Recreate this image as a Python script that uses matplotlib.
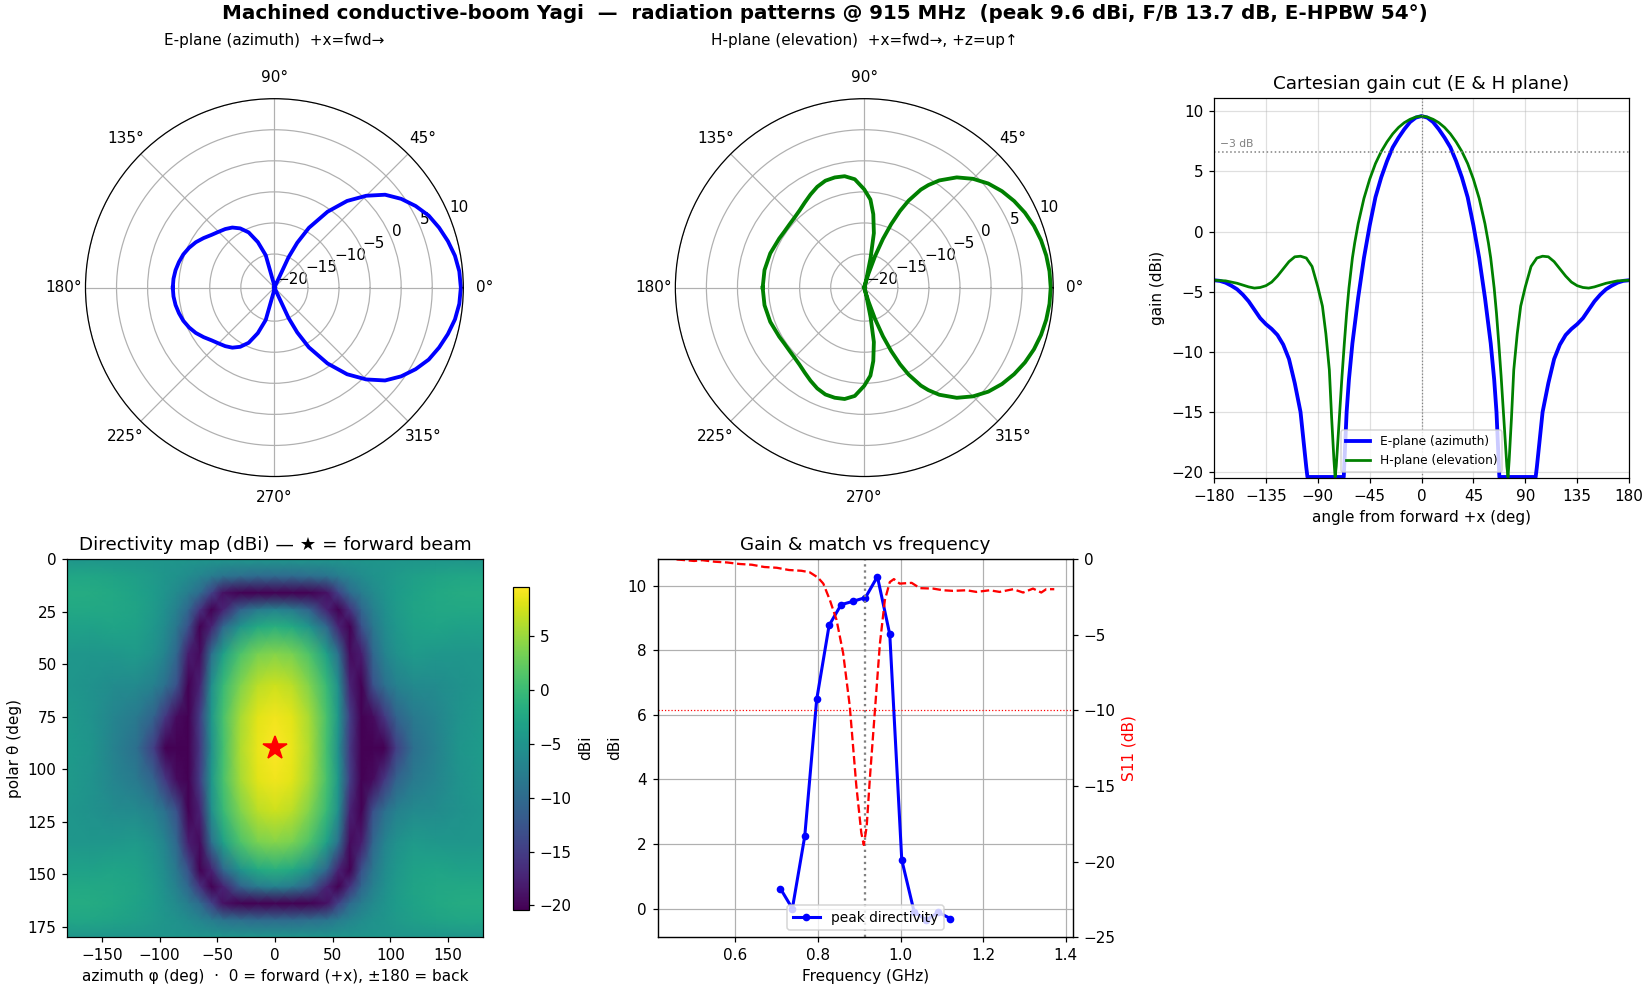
import numpy as np
import matplotlib.pyplot as plt

FLOOR = -20.4
PEAK = 9.6

# ---- E-plane (azimuth) cut, symmetric about forward (deg, dBi)
e_ang = [0, 5, 10, 15, 20, 25, 30, 35, 40, 45, 50, 55, 60, 63, 65, 67.5, 70, 80, 90, 99,
         100, 105, 110, 115, 120, 125, 130, 135, 140, 145, 150, 155, 160, 165, 170, 175, 180]
e_gain = [9.6, 9.47, 9.1, 8.5, 7.8, 7.0, 5.85, 4.5, 2.85, 0.5, -2.2, -5.5, -9.3, -12.3, -15.0,
          -20.4, -20.4, -20.4, -20.4, -20.4, -19.6, -15.0, -12.6, -10.6, -9.4, -8.6, -8.1, -7.7,
          -7.2, -6.5, -5.8, -5.25, -4.8, -4.5, -4.25, -4.1, -4.05]

# ---- H-plane (elevation) cut, symmetric about forward
h_ang = [0, 5, 10, 15, 20, 25, 30, 35, 40, 45, 50, 55, 58, 60, 63, 65, 67, 69, 71, 73, 74, 75,
         76, 78, 80, 83, 86, 90, 95, 100, 105, 110, 115, 120, 125, 130, 135, 140, 145, 150,
         160, 170, 180]
h_gain = [9.6, 9.52, 9.33, 9.05, 8.65, 8.12, 7.45, 6.65, 5.65, 4.35, 2.75, 0.65, -0.95, -2.2,
          -4.7, -6.8, -9.3, -12.0, -15.0, -18.0, -19.5, -20.4, -19.0, -15.5, -11.5, -8.5, -6.2,
          -4.6, -2.9, -2.2, -2.05, -2.1, -2.5, -3.1, -3.7, -4.2, -4.5, -4.65, -4.7, -4.6, -4.3,
          -4.1, -4.05]

# ---- directivity map nodes (upper half in theta, phi >= 0), dBi
theta_nodes = [0, 8, 16, 24, 32, 45, 60, 75, 90]
phi_nodes = [0, 15, 30, 45, 55, 65, 75, 85, 95, 105, 120, 140, 160, 180]
dir_rows = [
    [-4.8] * 14,
    [-10.0, -10.0, -9.6, -8.8, -7.8, -6.8, -5.9, -5.2, -4.7, -4.2, -3.6, -3.0, -2.7, -2.6],
    [-20.4, -20.4, -20.4, -19.0, -14.5, -10.0, -7.8, -6.2, -5.0, -4.0, -3.1, -2.4, -2.1, -2.0],
    [-7.0, -8.0, -11.0, -17.5, -20.4, -16.0, -10.5, -7.5, -5.6, -4.2, -3.0, -2.5, -2.4, -2.4],
    [-1.5, -2.3, -5.0, -10.5, -17.5, -20.4, -13.0, -8.5, -6.0, -4.5, -3.2, -2.9, -3.3, -3.3],
    [4.0, 3.4, 1.1, -3.6, -9.5, -19.5, -18.0, -10.5, -7.0, -5.3, -4.2, -4.5, -4.6, -4.5],
    [7.3, 6.5, 3.8, -0.3, -5.6, -17.5, -20.4, -13.0, -9.5, -7.3, -6.2, -5.9, -5.1, -4.6],
    [9.0, 8.2, 5.6, 0.8, -4.5, -15.0, -20.4, -19.5, -15.5, -11.0, -8.2, -6.7, -5.0, -4.2],
    [9.6, 8.6, 5.85, 0.5, -5.5, -15.5, -20.4, -20.4, -20.4, -15.0, -9.4, -7.2, -4.8, -4.05],
]

# ---- gain / match sweep
gain_f = [0.709, 0.738, 0.768, 0.797, 0.827, 0.856, 0.886, 0.915, 0.944, 0.974, 1.003,
          1.033, 1.062, 1.092, 1.121]
gain_db = [0.62, 0.0, 2.24, 6.48, 8.77, 9.41, 9.52, 9.63, 10.28, 8.49, 1.51, -0.1, -0.35, -0.12, -0.31]
s11_f = [0.4575, 0.48, 0.50, 0.52, 0.55, 0.58, 0.61, 0.64, 0.67, 0.70, 0.73, 0.76, 0.78,
         0.80, 0.813, 0.829, 0.845, 0.861, 0.877, 0.893, 0.905, 0.911, 0.918, 0.926, 0.938, 0.95,
         0.962, 0.974, 0.984, 0.998, 1.027, 1.047, 1.079, 1.103, 1.127, 1.16, 1.184, 1.216,
         1.24, 1.273, 1.297, 1.321, 1.341, 1.353, 1.3725]
s11_db = [0.0, -0.05, -0.1, -0.05, -0.15, -0.2, -0.3, -0.35, -0.5, -0.55, -0.7, -0.75,
          -0.85, -1.2, -1.6, -2.7, -4.0, -6.2, -9.7, -15.0, -18.1, -18.9, -17.7, -14.4, -10.0,
          -5.6, -2.7, -1.5, -1.3, -1.6, -1.55, -1.9, -1.93, -2.04, -2.08, -2.04, -2.15, -2.04,
          -2.15, -1.97, -2.19, -1.93, -2.19, -1.97, -1.97]


def mirror(ang, val):
    a = np.asarray(ang, float)
    v = np.asarray(val, float)
    return np.concatenate([-a[:0:-1], a]), np.concatenate([v[:0:-1], v])


e_full_a, e_full_g = mirror(e_ang, e_gain)
h_full_a, h_full_g = mirror(h_ang, h_gain)

fig = plt.figure(figsize=(15, 9), dpi=110)
fig.suptitle('Machined conductive-boom Yagi  —  radiation patterns @ 915 MHz  '
             '(peak 9.6 dBi, F/B 13.7 dB, E-HPBW 54°)', fontsize=13, fontweight='bold', y=0.996)

# polar cuts
axE = fig.add_axes([0.0518, 0.5185, 0.229, 0.382], projection='polar')
axE.plot(np.radians(e_full_a), np.clip(e_full_g, FLOOR, None), color='blue', lw=2.5)
axE.set_rlim(FLOOR, 10)
axE.set_title('E-plane (azimuth)  +x=fwd→', fontsize=10, pad=35)

axH = fig.add_axes([0.4093, 0.5185, 0.229, 0.382], projection='polar')
axH.plot(np.radians(h_full_a), np.clip(h_full_g, FLOOR, None), color='green', lw=2.5)
axH.set_rlim(FLOOR, 10)
axH.set_title('H-plane (elevation)  +x=fwd→, +z=up↑', fontsize=10, pad=35)

# cartesian cut
axC = fig.add_axes([0.7358, 0.517, 0.2515, 0.384])
axC.plot(e_full_a, np.clip(e_full_g, FLOOR, None), color='blue', lw=2.5, label='E-plane (azimuth)')
axC.plot(h_full_a, np.clip(h_full_g, FLOOR, None), color='green', lw=1.8, label='H-plane (elevation)')
axC.axhline(PEAK - 3, color='gray', ls=':', lw=1)
axC.axvline(0, color='gray', ls=':', lw=0.8)
axC.text(-175, PEAK - 3 + 0.4, '−3 dB', fontsize=7, color='gray')
axC.set_xlim(-180, 180)
axC.set_ylim(-20.5, 11.1)
axC.set_xticks(range(-180, 181, 45))
axC.grid(True, alpha=0.4)
axC.set_xlabel('angle from forward +x (deg)')
axC.set_ylabel('gain (dBi)')
axC.set_title('Cartesian gain cut (E & H plane)')
axC.legend(loc='lower center', fontsize=8)

# directivity map
th = np.asarray(theta_nodes, float)
ph = np.asarray(phi_nodes, float)
th_full = np.concatenate([th, 180 - th[-2::-1]])
ph_full = np.concatenate([-ph[:0:-1], ph])
half = np.asarray(dir_rows, float)
rows = np.vstack([half, half[-2::-1]])
grid = np.hstack([rows[:, :0:-1], rows])

axM = fig.add_axes([0.0408, 0.0535, 0.2517, 0.3814])
mesh = axM.pcolormesh(ph_full, th_full, grid, shading='gouraud', cmap='viridis',
                      vmin=FLOOR, vmax=PEAK)
axM.plot(0, 90, marker='*', color='red', ms=16)
axM.set_xlim(-180, 180)
axM.set_ylim(180, 0)
axM.set_yticks(range(0, 176, 25))
axM.set_xlabel('azimuth φ (deg)  ·  0 = forward (+x), ±180 = back')
axM.set_ylabel('polar θ (deg)')
axM.set_title('Directivity map (dBi) — ★ = forward beam')
cax = fig.add_axes([0.311, 0.0812, 0.0097, 0.326])
cb = fig.colorbar(mesh, cax=cax)
cb.set_label('dBi')

# gain & match vs frequency
axF = fig.add_axes([0.3986, 0.0535, 0.2518, 0.3814])
axF.plot(gain_f, gain_db, 'b-o', ms=4, lw=2, label='peak directivity')
axF.axvline(0.915, color='gray', ls=':', lw=1.5)
axF.grid(True)
axF.set_xlabel('Frequency (GHz)')
axF.set_ylabel('dBi')
axF.set_title('Gain & match vs frequency')
axF.legend(loc='lower center', fontsize=9)
axS = axF.twinx()
axS.plot(s11_f, s11_db, 'r--', lw=1.5)
axS.axhline(-10, color='red', ls=':', lw=0.8)
axS.set_ylim(-25, 0)
axS.set_ylabel('S11 (dB)', color='red')

fig.savefig('out.png', dpi=110)
